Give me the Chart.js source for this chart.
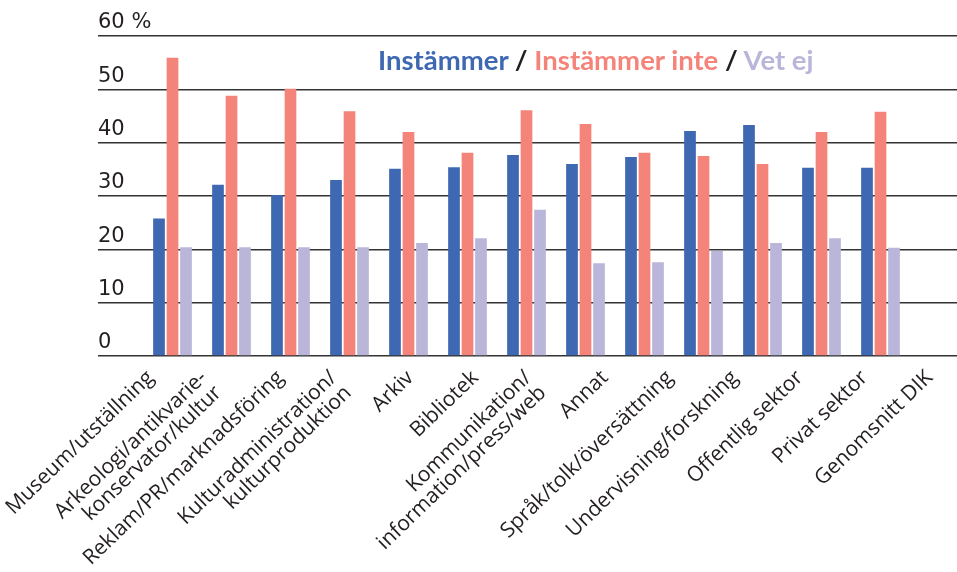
<!DOCTYPE html>
<html>
<head>
<meta charset="utf-8">
<script src="https://cdn.jsdelivr.net/npm/chart.js@4/dist/chart.umd.min.js"></script>
<style>
  body { margin: 0; background: #fff; }
  #wrap { position: relative; width: 957px; height: 572px; }
  #legend {
    position: absolute; left: 378px; top: 43px;
    font: bold 27.5px Lato, sans-serif; color: #231f20; white-space: nowrap;
  }
</style>
</head>
<body>
<div id="wrap">
  <canvas id="chart" width="957" height="572"></canvas>
  <div id="legend"><span style="color:#3e68b2">Instämmer</span> / <span style="color:#f4847a">Instämmer inte</span> / <span style="color:#bab6da">Vet ej</span></div>
</div>
<script>
const categories = [
  'Museum/utställning',
  ['Arkeologi/antikvarie-', 'konservator/kultur'],
  'Reklam/PR/marknadsföring',
  ['Kulturadministration/', 'kulturproduktion'],
  'Arkiv',
  'Bibliotek',
  ['Kommunikation/', 'information/press/web'],
  'Annat',
  'Språk/tolk/översättning',
  'Undervisning/forskning',
  'Offentlig sektor',
  'Privat sektor',
  'Genomsnitt DIK'
];
const instammer     = [25.8, 32.1, 30.2, 33.0, 35.1, 35.4, 37.7, 36.0, 37.3, 42.2, 43.3, 35.3, 35.3];
const instammerInte = [55.9, 48.8, 50.1, 45.9, 42.0, 38.1, 46.1, 43.5, 38.1, 37.5, 36.0, 42.0, 45.8];
const vetEj         = [20.4, 20.4, 20.4, 20.4, 21.2, 22.1, 27.4, 17.4, 17.6, 19.7, 21.2, 22.1, 20.3];
const yTicks = [0, 10, 20, 30, 40, 50, 60];

// the category labels in the original sit a little wider apart than the bars,
// and two-line labels are centred on their spot
const labelSpread = 1.1;
const labelShift = -0.37;
const twoLineShift = -0.2;

const gridColor = '#333';
const textColor = '#231f20';

new Chart(document.getElementById('chart'), {
  type: 'bar',
  data: {
    labels: categories,
    datasets: [
      { label: 'Instämmer', data: instammer, backgroundColor: '#3e68b2' },
      { label: 'Instämmer inte', data: instammerInte, backgroundColor: '#f4847a' },
      { label: 'Vet ej', data: vetEj, backgroundColor: '#bab6da' }
    ]
  },
  options: {
    responsive: false,
    animation: false,
    categoryPercentage: 0.763,
    barPercentage: 0.867,
    layout: { padding: { left: 98, top: 36, right: 0, bottom: 0 } },
    plugins: { legend: { display: false }, tooltip: { enabled: false } },
    scales: {
      x: {
        grid: { display: false, drawTicks: false },
        border: { display: false },
        afterBuildTicks: s => {
          s.ticks = categories.map((c, i) => ({
            value: i * labelSpread + labelShift + (Array.isArray(c) ? twoLineShift : 0)
          }));
        },
        ticks: {
          autoSkip: false,
          minRotation: 44,
          maxRotation: 44,
          padding: 11,
          color: textColor,
          font: { family: 'Open Sans', size: 21, lineHeight: 1.0 },
          callback: (v, i) => categories[i]
        },
        afterFit: s => { s.height = 216; s.paddingLeft = 0; s.paddingRight = 0; }
      },
      y: {
        position: 'left',
        min: 0, max: 60,
        afterBuildTicks: s => { s.ticks = yTicks.map(v => ({ value: v })); },
        grid: { color: gridColor, lineWidth: 1.6, tickLength: 45 },
        border: { display: false },
        ticks: {
          mirror: true,
          padding: -45,
          labelOffset: -13,
          color: textColor,
          font: { family: 'DejaVu Sans', size: 21 },
          callback: v => v === 60 ? '60 %' : String(v)
        },
        afterFit: s => { s.width = 45; s.paddingTop = 0; s.paddingBottom = 0; }
      },
      y2: {
        position: 'right',
        min: 0, max: 60,
        afterBuildTicks: s => { s.ticks = yTicks.map(v => ({ value: v })); },
        grid: { color: gridColor, lineWidth: 1.6, tickLength: 47, drawOnChartArea: false },
        border: { display: false },
        ticks: { display: false },
        afterFit: s => { s.width = 47; s.paddingTop = 0; s.paddingBottom = 0; }
      }
    }
  }
});
</script>
</body>
</html>
